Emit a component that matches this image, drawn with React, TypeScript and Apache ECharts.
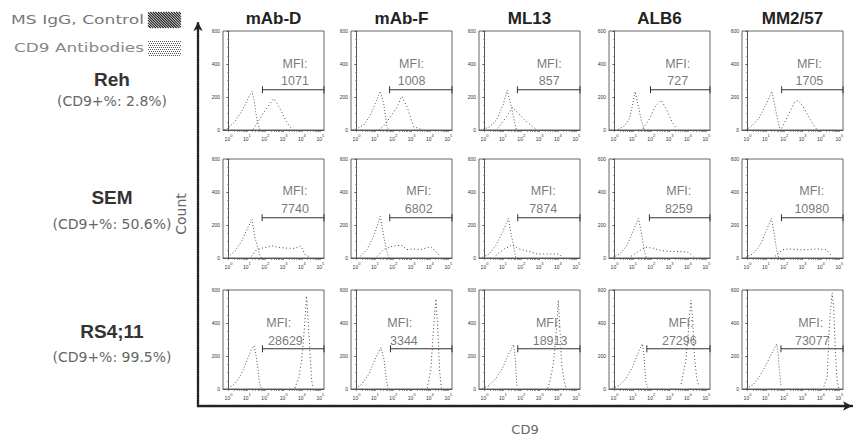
import React, { useEffect, useRef } from 'react';
import * as echarts from 'echarts';

const antibodies = ['mAb-D', 'mAb-F', 'ML13', 'ALB6', 'MM2/57'];
const cellLines = ['Reh', 'SEM', 'RS4;11'];
const cd9Positive = ['2.8%', '50.6%', '99.5%'];
const legendLabels = ['MS IgG, Control', 'CD9 Antibodies'];
const yTicks = [0, 200, 400, 600];
const xDecades = [0, 1, 2, 3, 4, 5];

const mfiReh = [1071, 1008, 857, 727, 1705];
const mfiSem = [7740, 6802, 7874, 8259, 10980];
const mfiRs411 = [28629, 3344, 18913, 27296, 73077];

// gate start (log10 decade) and gate height (count)
const gateStartReh = [1.85, 1.8, 1.79, 1.96, 1.86];
const gateStartSem = [1.83, 1.81, 1.81, 1.9, 1.85];
const gateStartRs411 = [1.85, 1.85, 1.81, 1.76, 1.82];
const gateCount = 244;

// histogram points: [log10 CD9 intensity, count]
const rehControl = [
  [[-0.25, 0], [-0.03, 10], [0.34, 50], [0.7, 110], [0.98, 170], [1.15, 210], [1.28, 234], [1.39, 180], [1.48, 110], [1.57, 50], [1.7, 4], [1.8, 0]],
  [[-0.2, 0], [0.03, 10], [0.39, 30], [0.76, 90], [1.02, 160], [1.3, 235], [1.48, 160], [1.66, 20], [1.75, 0]],
  [[-0.08, 4], [0.28, 20], [0.65, 60], [1.01, 152], [1.23, 240], [1.46, 142], [1.65, 40], [1.74, 0]],
  [[0.2, 4], [0.55, 25], [0.82, 72], [0.98, 150], [1.12, 232], [1.28, 155], [1.45, 62], [1.62, 0]],
  [[-0.09, 0], [0.27, 28], [0.62, 72], [0.98, 148], [1.33, 234], [1.51, 135], [1.65, 58], [1.77, 0]],
];
const rehAntibody = [
  [[1.34, 4], [1.61, 50], [1.89, 100], [2.16, 144], [2.43, 186], [2.48, 190], [2.7, 150], [2.89, 110], [3.07, 70], [3.3, 25], [3.5, 5]],
  [[1.21, 0], [1.48, 24], [1.85, 80], [2.21, 140], [2.47, 205], [2.75, 140], [2.93, 80], [3.11, 20], [3.39, 10], [3.6, 0]],
  [[0.73, 10], [1.2, 81], [1.53, 138], [1.92, 91], [2.29, 50], [2.65, 16], [2.84, 4]],
  [[1.55, 10], [1.88, 62], [2.2, 141], [2.55, 180], [2.88, 114], [3.12, 52], [3.37, 10]],
  [[1.86, 10], [2.22, 90], [2.57, 170], [2.75, 180], [3.01, 145], [3.28, 90], [3.64, 22], [3.81, 0]],
];
const semControl = [
  [[-0.03, 6], [0.34, 40], [0.7, 99], [0.98, 168], [1.28, 234], [1.43, 129], [1.58, 69], [1.7, 20], [1.79, 0]],
  [[0.21, 10], [0.57, 51], [0.94, 133], [1.3, 252], [1.48, 133], [1.63, 51], [1.75, 0]],
  [[-0.12, 4], [0.25, 24], [0.61, 75], [0.98, 156], [1.3, 240], [1.43, 156], [1.58, 75], [1.7, 4]],
  [[-0.1, 4], [0.3, 25], [0.7, 80], [1.0, 160], [1.3, 240], [1.45, 160], [1.6, 60], [1.72, 4]],
  [[-0.1, 4], [0.3, 25], [0.7, 80], [1.0, 160], [1.3, 240], [1.45, 150], [1.6, 40], [1.7, 4]],
];
const semAntibody = [
  [[1.25, 10], [1.52, 50], [1.79, 59], [2.43, 73], [2.7, 65], [3.25, 59], [3.62, 59], [3.94, 73], [4.16, 20], [4.44, 6]],
  [[1.12, 10], [1.48, 51], [1.85, 68], [2.21, 76], [2.48, 76], [2.75, 51], [3.12, 55], [3.48, 51], [4.03, 68], [4.3, 41], [4.57, 10]],
  [[0.61, 14], [1.07, 55], [1.53, 79], [1.89, 55], [2.25, 44], [2.61, 34], [2.89, 24], [3.34, 24], [4.07, 24], [4.25, 4]],
  [[0.9, 10], [1.3, 40], [1.7, 65], [2.1, 60], [2.5, 45], [3.0, 40], [3.5, 40], [4.0, 35], [4.3, 10]],
  [[1.5, 10], [1.9, 50], [2.3, 55], [2.8, 50], [3.3, 50], [3.8, 55], [4.3, 50], [4.6, 10]],
];
const rs411Control = [
  [[-0.03, 6], [0.34, 30], [0.7, 90], [1.07, 191], [1.25, 241], [1.39, 261], [1.52, 191], [1.61, 110], [1.7, 30], [1.79, 6]],
  [[-0.05, 5], [0.3, 30], [0.7, 95], [1.05, 190], [1.33, 252], [1.5, 180], [1.62, 60], [1.72, 5]],
  [[-0.12, 4], [0.24, 20], [0.6, 61], [0.96, 122], [1.32, 213], [1.59, 270], [1.68, 173], [1.77, 10]],
  [[-0.12, 4], [0.25, 20], [0.61, 61], [0.98, 132], [1.34, 233], [1.52, 274], [1.61, 193], [1.7, 51], [1.79, 10]],
  [[-0.07, 4], [0.29, 24], [0.65, 75], [1.01, 146], [1.28, 207], [1.59, 274], [1.68, 197], [1.73, 116], [1.82, 24]],
];
const rs411Antibody = [
  [[3.62, 6], [3.83, 70], [3.98, 171], [4.07, 281], [4.16, 412], [4.25, 563], [4.34, 412], [4.44, 211], [4.53, 50], [4.62, 6]],
  [[3.85, 5], [4.05, 120], [4.2, 380], [4.32, 546], [4.42, 380], [4.52, 120], [4.62, 5]],
  [[3.45, 4], [3.57, 51], [3.75, 152], [3.93, 376], [4.02, 538], [4.11, 355], [4.2, 152], [4.33, 51], [4.44, 6]],
  [[3.62, 30], [3.89, 173], [4.07, 416], [4.16, 538], [4.25, 436], [4.34, 213], [4.47, 71], [4.58, 20]],
  [[4.16, 14], [4.34, 75], [4.43, 319], [4.52, 481], [4.61, 583], [4.7, 481], [4.79, 217], [4.88, 55], [4.97, 4]],
];

const controls = [rehControl, semControl, rs411Control];
const antibodyCurves = [rehAntibody, semAntibody, rs411Antibody];
const mfis = [mfiReh, mfiSem, mfiRs411];
const gateStarts = [gateStartReh, gateStartSem, gateStartRs411];

// layout (pixels / label anchors in data units)
const colLeft = [223, 351, 479, 609, 742];
const rowTop = [31, 159, 290];
const panelW = 101;
const panelH = 99;
const labelPos = [
  [[3.62, 400, 3.62, 295], [3.0, 400, 3.0, 295], [3.52, 400, 3.52, 295], [3.44, 400, 3.44, 295], [3.37, 400, 3.37, 295]],
  [[3.62, 405, 3.62, 300], [3.39, 405, 3.39, 300], [3.2, 405, 3.2, 300], [3.5, 405, 3.5, 300], [3.5, 405, 3.5, 300]],
  [[2.74, 400, 3.1, 288], [2.36, 400, 2.58, 288], [3.48, 400, 3.57, 288], [3.62, 400, 3.53, 288], [3.44, 400, 3.53, 288]],
];
const rowLabelY = [[79, 101], [197, 224], [331, 357]];
const legendY = [20, 48];
const legendWidth = [133, 130];

const FONT = '"Liberation Sans", Arial, sans-serif';
const WIDE = '"DejaVu Sans", sans-serif';
const X_MIN = -0.3;
const X_MAX = 5.2;

function measure(text: string, font: string): number {
  try {
    const cv = document.createElement('canvas');
    const ctx = cv.getContext('2d');
    if (ctx) {
      ctx.font = font;
      const w = ctx.measureText(text).width;
      if (w > 0) return w;
    }
  } catch (e) {
    /* ignore */
  }
  return text.length * 7;
}

function buildOption() {
  const grid: any[] = [];
  const xAxis: any[] = [];
  const yAxis: any[] = [];
  const series: any[] = [];

  const minorTicks: number[] = [];
  for (let d = 0; d < 5; d++) {
    for (let k = 1; k <= 9; k++) minorTicks.push(d + Math.log10(k));
  }
  minorTicks.push(5);

  for (let r = 0; r < 3; r++) {
    for (let c = 0; c < 5; c++) {
      const idx = r * 5 + c;
      grid.push({
        left: colLeft[c], top: rowTop[r], width: panelW, height: panelH,
        show: true, borderColor: '#666', borderWidth: 1, backgroundColor: 'transparent',
      });
      xAxis.push({
        gridIndex: idx, type: 'value', min: X_MIN, max: X_MAX,
        splitLine: { show: false },
        axisLine: { show: true, onZero: false, lineStyle: { color: '#555', width: 1 } },
        axisTick: { show: true, customValues: minorTicks, length: 2, lineStyle: { color: '#555', width: 0.6 } },
        axisLabel: {
          show: true, customValues: xDecades, margin: 3,
          formatter: (v: number) => `{b|10}{s|${Math.round(v)}}`,
          rich: {
            b: { fontSize: 5, color: '#333', fontFamily: FONT, lineHeight: 8, verticalAlign: 'bottom' },
            s: { fontSize: 4, color: '#333', fontFamily: FONT, lineHeight: 8, verticalAlign: 'top' },
          },
        },
      });
      yAxis.push({
        gridIndex: idx, type: 'value', min: 0, max: 600, interval: 200,
        splitLine: { show: false },
        axisLine: { show: true, lineStyle: { color: '#555', width: 1 } },
        axisTick: { show: true, length: 2, lineStyle: { color: '#555' } },
        minorTick: { show: true, splitNumber: 4, length: 1.2, lineStyle: { color: '#777' } },
        axisLabel: { show: true, fontSize: 5, color: '#333', margin: 3, fontFamily: FONT, customValues: yTicks },
      });
      series.push({
        type: 'line', xAxisIndex: idx, yAxisIndex: idx, data: controls[r][c],
        symbol: 'none', smooth: false, z: 3,
        lineStyle: { type: [1, 2], width: 1, color: '#555' },
      });
      series.push({
        type: 'line', xAxisIndex: idx, yAxisIndex: idx, data: antibodyCurves[r][c],
        symbol: 'none', smooth: false, z: 3,
        lineStyle: { type: [1, 2.5], width: 1, color: '#444' },
      });
      series.push({
        type: 'line', xAxisIndex: idx, yAxisIndex: idx,
        data: [[gateStarts[r][c], gateCount], [X_MAX, gateCount]],
        symbol: 'rect', symbolSize: [1, 7], showSymbol: true, clip: false, z: 4,
        itemStyle: { color: '#333' },
        lineStyle: { type: 'solid', width: 1.2, color: '#333' },
      });
      const lp = labelPos[r][c];
      series.push({
        type: 'scatter', xAxisIndex: idx, yAxisIndex: idx, symbolSize: 1, z: 5,
        itemStyle: { color: 'transparent' },
        label: { show: true, position: 'inside', fontSize: 12.5, color: '#555', fontFamily: FONT },
        data: [
          { value: [lp[0], lp[1]], label: { formatter: 'MFI:' } },
          { value: [lp[2], lp[3]], label: { formatter: String(mfis[r][c]) } },
        ],
      });
    }
  }

  // outer frame axes
  const outer = grid.length;
  grid.push({ left: 198, top: 22, width: 654, height: 388, show: false });
  const frameLine = { color: '#222', width: 2.4, type: [1.2, 1.2] };
  xAxis.push({
    gridIndex: outer, type: 'value', min: 0, max: 1,
    name: 'CD9', nameLocation: 'middle', nameGap: 17,
    nameTextStyle: { fontSize: 13, color: '#666', fontFamily: WIDE },
    splitLine: { show: false }, axisTick: { show: false }, axisLabel: { show: false },
    axisLine: { show: true, symbol: ['none', 'arrow'], symbolSize: [7, 9], lineStyle: frameLine },
  });
  yAxis.push({
    gridIndex: outer, type: 'value', min: 0, max: 1,
    name: 'Count', nameLocation: 'middle', nameGap: 10,
    nameTextStyle: { fontSize: 14, color: '#666', fontFamily: WIDE },
    splitLine: { show: false }, axisTick: { show: false }, axisLabel: { show: false },
    axisLine: { show: true, symbol: ['none', 'arrow'], symbolSize: [7, 9], lineStyle: frameLine },
  });

  const graphic: any[] = [];
  antibodies.forEach((name, c) => {
    graphic.push({
      type: 'text', x: colLeft[c] + panelW / 2, y: 18,
      style: { text: name, font: `bold 17px ${FONT}`, fill: '#222', align: 'center', verticalAlign: 'middle' },
    });
  });
  cellLines.forEach((name, r) => {
    graphic.push({
      type: 'text', x: 112, y: rowLabelY[r][0],
      style: { text: name, font: `bold 19px ${FONT}`, fill: '#333', align: 'center', verticalAlign: 'middle' },
    });
    graphic.push({
      type: 'text', x: 112, y: rowLabelY[r][1],
      style: { text: `(CD9+%: ${cd9Positive[r]})`, font: `14px ${WIDE}`, fill: '#666', align: 'center', verticalAlign: 'middle' },
    });
  });
  // legend texts, stretched horizontally like the reference's wide lettering
  const legendFont = `13px ${WIDE}`;
  legendLabels.forEach((t, i) => {
    const w = measure(t, legendFont);
    graphic.push({
      type: 'text', x: 144, y: legendY[i], scaleX: legendWidth[i] / w, scaleY: 1,
      style: { text: t, x: 0, y: 0, font: legendFont, fill: i === 0 ? '#777' : '#888', align: 'right', verticalAlign: 'middle' },
    });
  });
  // hatched box
  const hx0 = 148, hx1 = 181, hy0 = 12, hy1 = 28;
  for (let k = hx0 - hy1; k <= hx1 - hy0; k += 2.6) {
    const xa = Math.max(hx0, hy0 + k);
    const xb = Math.min(hx1, hy1 + k);
    if (xb - xa < 0.5) continue;
    graphic.push({
      type: 'line', shape: { x1: xa, y1: xa - k, x2: xb, y2: xb - k },
      style: { stroke: '#222', lineWidth: 1.1 },
    });
  }
  // dotted box
  for (let yy = 41, row = 0; yy <= 55; yy += 2, row++) {
    for (let xx = 148 + (row % 2); xx <= 180; xx += 2) {
      graphic.push({ type: 'rect', shape: { x: xx, y: yy, width: 1, height: 1 }, style: { fill: '#555' } });
    }
  }

  return {
    animation: false,
    backgroundColor: '#fff',
    textStyle: { fontFamily: FONT },
    grid, xAxis, yAxis, series, graphic,
  };
}

export default function App() {
  const ref = useRef<HTMLDivElement>(null);
  useEffect(() => {
    document.body.style.margin = '0';
    if (!ref.current) return;
    const chart = echarts.init(ref.current, undefined, { renderer: 'svg' });
    chart.setOption(buildOption() as any);
    return () => chart.dispose();
  }, []);
  return <div ref={ref} style={{ position: 'absolute', left: 0, top: 0, width: 856, height: 441 }} />;
}
